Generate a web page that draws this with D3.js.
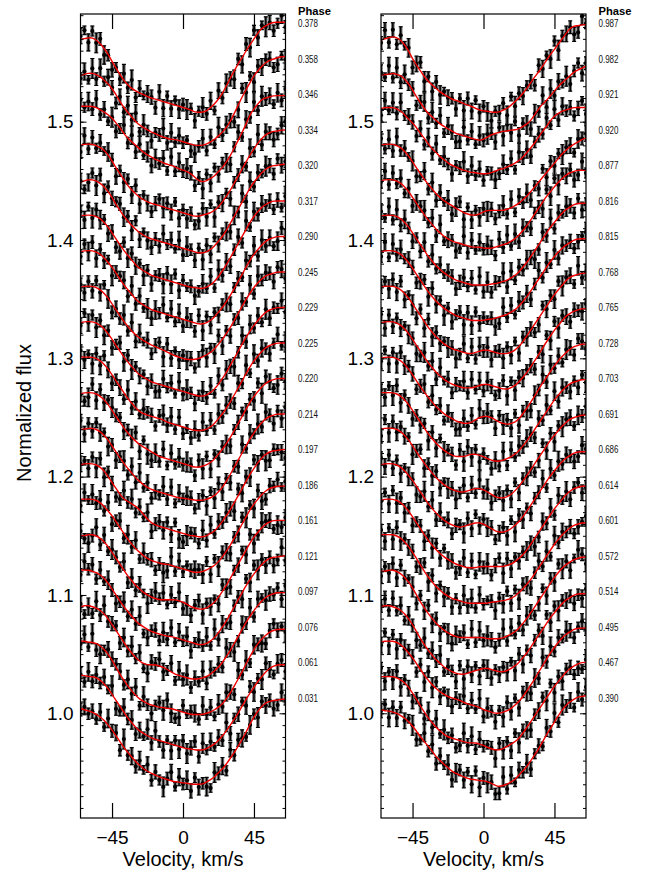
<!DOCTYPE html>
<html><head><meta charset="utf-8">
<script src="https://cdn.jsdelivr.net/npm/d3@7"></script>
<style>body{margin:0;background:#fff}svg{display:block}text{font-family:"Liberation Sans",Arial,Helvetica,sans-serif}</style>
</head><body><svg id="c" width="648" height="876"></svg>
<script>
// ---------- data ----------
// velocity grid (km/s) of the measured points and of the model fit
const velocities = [-65,-62.5,-60,-57.5,-55,-52.5,-50,-47.5,-45,-42.5,-40,-37.5,-35,-32.5,-30,-27.5,-25,-22.5,-20,-17.5,-15,-12.5,-10,-7.5,-5,-2.5,0,2.5,5,7.5,10,12.5,15,17.5,20,22.5,25,27.5,30,32.5,35,37.5,40,42.5,45,47.5,50,52.5,55,57.5,60,62.5,65];
// phases, bottom to top
const phasesLeft = ["0.031","0.061","0.076","0.097","0.121","0.161","0.186","0.197","0.214","0.220","0.225","0.229","0.245","0.290","0.317","0.320","0.334","0.346","0.358","0.378"];
const phasesRight = ["0.390","0.467","0.495","0.514","0.572","0.601","0.614","0.686","0.691","0.703","0.728","0.765","0.768","0.815","0.816","0.877","0.920","0.921","0.982","0.987"];
const xTicks = [-45, 0, 45];
const yTicks = [1.0, 1.1, 1.2, 1.3, 1.4, 1.5];
const offsetStep = 0.03;
// model (red) line depth below each profile's offset level, in units of 0.001
const depthLeft = [
[-4,-3,-2,-1,1,3,6,10,14,19,24,29,33,37,41,44,47,49,51,52,54,55,56,57,58,58,59,59,60,60,60,60,58,56,54,50,47,43,38,33,28,22,16,9,3,-2,-6,-9,-10,-11,-11,-12,-12],
[-2,-2,-1,-1,0,2,5,9,14,19,24,29,34,38,42,45,47,49,51,52,53,54,55,56,57,58,59,60,60,61,61,61,60,58,56,53,49,45,40,35,30,24,18,13,8,3,-1,-5,-8,-10,-11,-11,-11],
[-1,-1,0,0,1,3,6,10,15,21,27,32,37,41,45,48,50,52,53,54,55,55,56,56,57,58,59,60,61,61,61,61,60,59,57,55,52,48,43,37,31,25,18,12,6,1,-3,-6,-9,-10,-11,-11,-11],
[0,-1,-1,0,1,3,6,10,15,20,25,30,35,39,43,46,48,49,49,49,50,51,53,55,57,58,59,60,61,61,61,60,59,57,54,51,47,42,37,31,25,19,13,8,3,-1,-5,-8,-10,-11,-12,-12,-12],
[-1,-1,-1,0,1,3,6,10,15,20,25,30,34,38,42,45,47,49,51,52,53,54,55,55,56,57,58,59,60,61,62,62,61,59,56,52,47,42,36,30,24,18,12,7,2,-2,-6,-9,-11,-12,-12,-13,-13],
[0,0,-1,-1,0,2,5,9,14,19,24,29,34,38,42,45,48,50,52,53,54,54,54,54,54,55,56,58,60,61,62,62,61,59,56,52,47,42,36,30,24,18,12,6,1,-3,-7,-10,-12,-13,-13,-13,-13],
[-1,-1,-1,-1,0,2,5,9,13,18,23,28,33,37,41,44,47,49,51,52,53,54,54,55,56,57,58,59,60,61,61,60,59,57,55,52,48,43,38,32,26,20,14,8,3,-1,-5,-8,-10,-11,-12,-12,-12],
[0,-1,-1,-1,0,2,5,10,15,20,25,29,31,33,35,38,42,46,49,51,52,53,54,55,56,57,58,59,60,60,61,61,60,58,56,52,48,43,38,32,26,20,14,8,3,-2,-6,-9,-11,-12,-12,-13,-13],
[0,0,-1,-1,0,2,5,9,14,19,24,29,33,37,41,44,47,49,51,52,53,54,55,56,57,58,58,59,59,60,60,60,59,58,56,53,49,44,38,32,26,20,14,8,3,-2,-6,-9,-11,-12,-13,-13,-13],
[0,-1,-1,-1,0,2,5,9,14,19,24,29,33,37,40,43,45,47,49,51,53,54,55,56,57,58,59,60,61,62,62,61,60,58,55,51,47,42,37,31,25,19,13,7,2,-2,-6,-9,-11,-12,-13,-13,-13],
[-1,-1,-1,-1,0,2,5,9,14,19,24,29,34,38,42,45,47,48,49,50,51,52,54,55,56,57,58,59,60,61,61,61,60,58,55,51,47,42,37,31,25,19,13,7,2,-2,-6,-9,-11,-12,-13,-13,-13],
[0,-1,-1,-1,0,2,5,9,14,19,24,29,33,37,41,44,46,48,50,51,52,53,54,55,56,57,58,59,60,61,62,62,61,59,56,52,47,42,36,30,24,18,12,7,2,-2,-6,-9,-11,-12,-13,-13,-13],
[0,-1,-1,-1,0,2,5,9,14,19,24,29,33,37,40,43,45,47,49,50,52,53,55,56,58,59,60,61,61,61,60,59,57,55,52,48,44,39,34,28,22,16,10,5,0,-4,-7,-10,-11,-12,-13,-13,-13],
[0,-1,-1,-1,0,2,5,9,13,18,23,28,32,36,40,43,45,47,49,50,51,52,53,54,55,56,57,58,59,60,61,61,60,58,55,51,47,42,37,31,25,19,13,7,2,-2,-6,-9,-11,-12,-13,-13,-13],
[0,-1,-1,-1,0,2,5,9,14,19,24,29,33,37,41,44,46,48,50,51,52,53,54,55,56,57,58,59,60,60,61,61,60,58,55,51,46,41,35,29,23,17,11,5,0,-4,-8,-10,-12,-13,-13,-13,-13],
[1,0,-1,-1,0,2,5,9,14,20,25,30,34,38,41,44,46,48,49,50,51,52,53,54,55,56,57,58,59,60,61,61,60,58,55,51,47,42,36,30,24,18,12,6,1,-3,-7,-10,-12,-13,-13,-14,-14],
[0,-1,-1,-1,0,2,4,8,13,19,24,29,34,38,41,44,46,48,49,50,51,52,53,54,55,56,57,58,59,60,60,59,58,57,55,52,48,43,38,32,26,20,14,8,3,-2,-6,-9,-11,-12,-12,-13,-13],
[-3,-3,-3,-3,-2,0,2,4,7,11,15,20,24,27,30,33,36,38,40,42,43,45,46,47,48,50,51,52,54,57,60,61,60,58,56,52,49,44,39,32,26,19,12,4,-1,-5,-9,-10,-11,-12,-12,-12,-12],
[1,0,-1,-1,0,2,5,8,12,17,23,28,32,36,40,43,45,47,49,50,52,53,54,55,55,56,57,58,59,60,60,60,59,57,55,52,49,45,40,33,26,19,13,7,1,-3,-7,-10,-12,-13,-14,-15,-15],
[0,0,-1,-1,1,4,8,13,19,25,30,35,39,42,44,46,47,49,50,51,52,53,54,55,56,57,58,59,60,62,62,62,61,58,55,51,46,40,33,27,21,16,10,5,0,-5,-9,-11,-13,-14,-14,-14,-14]];
const depthRight = [
[-3,-2,-2,-1,0,2,4,7,11,15,20,24,28,32,37,40,43,46,49,51,52,54,55,56,56,57,57,58,59,61,62,61,60,58,56,52,49,45,40,35,30,24,18,13,7,2,-3,-7,-10,-12,-14,-14,-15],
[-1,-1,-1,-1,0,2,4,8,13,18,24,29,34,38,42,45,48,50,51,52,53,54,55,55,55,56,57,59,60,61,61,60,58,56,54,51,47,42,37,32,27,22,17,12,7,3,-1,-5,-8,-10,-12,-13,-13],
[0,-1,-1,-1,0,2,5,9,13,18,23,28,32,36,39,42,44,46,47,48,49,51,52,53,54,55,57,58,59,60,60,59,58,56,53,50,46,41,36,31,25,20,14,9,4,0,-4,-7,-9,-11,-12,-12,-12],
[0,-1,-1,0,1,3,6,10,15,21,27,32,37,41,45,48,51,53,55,56,57,57,56,55,54,53,52,52,53,54,55,55,54,52,50,47,43,39,34,29,24,19,14,9,5,1,-3,-6,-8,-10,-11,-11,-11],
[0,0,-1,-1,0,2,5,9,14,20,26,31,36,40,44,47,50,52,54,55,56,56,56,56,56,56,56,57,57,57,57,56,55,53,51,48,44,40,35,30,25,20,15,10,5,1,-3,-6,-8,-10,-11,-12,-12],
[-1,-1,-1,-1,0,2,5,9,14,19,25,30,35,39,43,46,49,51,53,54,55,56,57,57,57,57,57,57,56,56,55,55,54,53,51,48,45,41,37,32,27,22,17,12,7,3,-1,-4,-7,-9,-10,-11,-11],
[0,-1,-1,-1,0,2,5,9,14,19,24,29,34,38,42,45,48,50,52,54,55,56,57,57,57,56,56,56,56,56,56,56,55,54,52,49,46,42,37,32,27,22,17,12,7,3,-1,-5,-8,-10,-11,-12,-12],
[0,-1,-1,-1,0,2,5,9,13,18,23,28,33,37,41,44,47,49,51,52,53,52,51,50,49,49,50,52,54,56,57,57,56,54,51,48,44,39,34,29,24,19,14,9,5,1,-3,-6,-8,-10,-11,-11,-11],
[0,-1,-1,-1,0,2,5,9,14,19,24,29,33,37,41,44,47,49,51,52,53,53,52,51,50,50,51,53,55,57,58,58,57,55,52,48,44,39,34,29,24,19,14,9,5,1,-3,-6,-9,-10,-11,-12,-12],
[-1,-1,-1,-1,0,2,5,9,14,19,24,29,34,38,42,45,48,50,52,53,53,53,52,51,51,52,53,55,56,57,57,56,55,53,51,48,44,40,35,30,25,20,15,10,5,1,-3,-6,-9,-10,-11,-12,-12],
[0,-1,-1,-1,0,2,5,9,14,19,24,29,33,37,41,44,47,49,51,53,54,55,55,54,52,50,49,49,50,52,54,55,56,55,54,51,47,42,37,32,26,21,16,11,6,2,-2,-5,-8,-10,-11,-12,-12],
[0,-1,-1,-1,0,2,5,9,14,19,24,29,34,38,42,45,48,50,52,53,54,55,55,55,54,53,52,52,53,54,55,56,56,55,53,50,46,42,37,32,27,21,16,11,6,2,-2,-6,-8,-10,-11,-12,-12],
[0,-1,-1,-1,0,2,5,9,14,19,24,29,34,38,42,45,48,50,52,53,54,55,56,56,55,54,53,53,54,55,56,56,56,55,53,50,46,41,36,31,26,21,16,11,6,2,-2,-6,-9,-10,-11,-12,-12],
[0,-1,-1,-1,0,2,5,9,14,19,24,29,34,38,42,45,48,50,52,54,55,56,57,58,58,58,58,57,57,56,55,54,53,51,49,46,42,38,33,28,23,18,13,8,4,0,-3,-6,-8,-10,-11,-11,-11],
[0,-1,-1,-1,0,2,5,9,14,19,24,29,34,38,42,45,48,50,52,54,55,56,57,58,58,58,58,58,57,57,56,55,54,52,50,47,43,39,34,29,24,19,14,9,5,1,-3,-6,-8,-10,-11,-11,-11],
[0,-1,-1,-1,0,2,5,9,14,19,24,29,33,37,41,44,47,49,51,52,53,54,55,56,56,56,57,57,57,56,55,54,53,51,49,46,42,38,33,28,23,18,13,9,5,1,-2,-5,-7,-8,-9,-9,-9],
[0,-1,-1,-1,0,2,5,9,14,19,24,29,33,37,41,44,47,49,51,53,55,57,58,59,59,58,56,55,55,55,55,55,54,53,51,49,46,43,39,35,31,27,23,19,15,11,7,4,1,-1,-3,-5,-6],
[-1,-2,-2,-2,-1,1,4,8,11,15,20,24,29,33,36,40,42,45,47,48,50,51,52,53,53,54,54,54,53,52,50,50,48,47,45,43,40,36,32,28,23,18,14,9,5,3,1,0,-1,-2,-2,-2,-2],
[1,0,0,-1,0,1,4,8,13,19,24,29,33,36,39,42,44,46,48,50,51,52,53,54,55,56,55,53,51,50,49,48,48,47,47,46,44,42,39,34,29,25,22,18,14,10,7,4,1,-2,-4,-5,-7],
[1,0,-1,-2,-1,1,5,10,17,22,27,32,36,39,42,45,47,49,51,52,53,55,56,57,59,60,61,61,62,62,62,60,59,56,53,50,46,42,37,32,28,23,18,13,9,4,0,-5,-9,-11,-11,-12,-12]];
// scatter of each measured point about the fit, read as digits 0..9 (4.5 = on the line)
const residLeft = [
"46352718460935274816305927461835207461938524617350284",
"51726384902746153829406173825918473629054718263940571",
"38291047566283917405739201846529471638509361742058463",
"60418293571738492065824917360538174629502749186354718",
"29581736404728391056163928470574829163056183947250392",
"73049182653916274058582739140692746183054829137650216",
"18473629058273916450401928375663918274053847291065847",
"56283917402947163805738291046518293746508273946105530",
"92738461505618293704382917465047183926051937462850628",
"40291837657364918205291837465083917264055736291840173",
"83617294054192837650673829140529481736507391826405935",
"39482716059283746150184729365057382916404928371605482",
"61728394053829174605819273645048372916052739184650761",
"28491736056719283405493827165091827364056384917250294",
"72938461501938472605628391745037491826058192736450517",
"50382917468472916305294738165071829364053918274650846",
"19283746506382917405847391625028391746055728391640379",
"84739261504928173605371928465061829374059273816450628",
"36172948507283916405592837461048172936502938174650153",
"69283714052839174650918273645057381926407183926450482"];
const residRight = [
"48172936503928174605738291645019283746056283917450739",
"92738164055182937460293817465084719263054839172650216",
"39281746507193826405482739165062938174051938274650584",
"58293716401837492650928371640537482916057192836450427",
"27381946508392716405571928364049283716503817294605961",
"71829364504928173605183729465063928174058271936450358",
"48293716056173829450392817460591827364502738194605714",
"83927164502839174605618293745047291836055918273640286",
"19283746059273816450481729360573829164503928174650549",
"62839174053718294650829371640529183746507382916405173",
"38172946505928371640173829465084729163054928371650862",
"91827364502738194605582937164039182746506182937405437",
"57382916408192736450392817460562839174501837294650925",
"29183746504829371605718293645019382746059273816450368",
"73928164051928374650473829160559182736402839174650714",
"49283716056738192450291837465083927164055182937460293",
"82719364503928174605918273645047291836051928374650657",
"18372946507182936405592837164027381946056392817450481",
"63928174505827391640193827465072839164053918274605826",
"39281746059271836450618293740548192736508372916450195"];
// error bar half-lengths, digits 0..9
const errStrings = [
"46352718463927481635294617385263819472534718293645372",
"52847361942738461958361728495349271638525173829461846",
"37194826536284719352495826314738261947536291847352519",
"61729483524839261754572618493529471638583748261953264"];

// ---------- drawing ----------
const svg = d3.select('#c');
const FONT = '"Liberation Sans",Arial,Helvetica,sans-serif';
const yTop = 14, yBot = 818;
const y = d3.scaleLinear().domain([0.9115, 1.591]).range([yBot, yTop]);
const panels = [
  {x0: 80.5, x1: 285.5, phases: phasesLeft, depth: depthLeft, resid: residLeft, labelX: 298},
  {x0: 381, x1: 586, phases: phasesRight, depth: depthRight, resid: residRight, labelX: 598.5}
];
const minorTicks = d3.range(92, 160).map(k => k / 100);

panels.forEach((p, pi) => {
  const x = d3.scaleLinear().domain([-65, 65]).range([p.x0, p.x1]);
  const cid = 'clip' + pi;
  svg.append('clipPath').attr('id', cid).append('rect')
    .attr('x', p.x0).attr('y', yTop).attr('width', p.x1 - p.x0).attr('height', yBot - yTop);
  const g = svg.append('g').attr('clip-path', `url(#${cid})`);

  p.phases.forEach((ph, i) => {
    const base = 1 + i * offsetStep;
    const es = errStrings[(i + pi) % errStrings.length];
    const rs = p.resid[i];
    const model = p.depth[i].map((d, j) => ({v: velocities[j], f: base - d / 1000}));
    const obs = model.map((m, j) => {
      const rc = rs[j] !== undefined ? +rs[j] : 4.5;
      const ec = es[j] !== undefined ? +es[j] : 4;
      return {v: m.v, f: m.f + (rc - 4.5) * 1.6 / 1000, e: (3 + ec * 0.6) / 1000};
    });
    const gs = g.append('g');
    gs.selectAll('line.halo').data(obs).join('line').attr('class', 'halo')
      .attr('x1', d => x(d.v)).attr('x2', d => x(d.v))
      .attr('y1', d => y(d.f - d.e) + 0.5).attr('y2', d => y(d.f + d.e) - 0.5)
      .attr('stroke', '#7a7a7a').attr('stroke-width', 3.6);
    gs.selectAll('line.eb').data(obs).join('line').attr('class', 'eb')
      .attr('x1', d => x(d.v)).attr('x2', d => x(d.v))
      .attr('y1', d => y(d.f - d.e)).attr('y2', d => y(d.f + d.e))
      .attr('stroke', '#000').attr('stroke-width', 1.5);
    ['cap1', 'cap2'].forEach((c, ci) => {
      gs.selectAll('line.' + c).data(obs).join('line').attr('class', c)
        .attr('x1', d => x(d.v) - 2).attr('x2', d => x(d.v) + 2)
        .attr('y1', d => y(d.f + (ci ? -d.e : d.e))).attr('y2', d => y(d.f + (ci ? -d.e : d.e)))
        .attr('stroke', '#000').attr('stroke-width', 1.1);
    });
    gs.selectAll('circle').data(obs).join('circle')
      .attr('cx', d => x(d.v)).attr('cy', d => y(d.f)).attr('r', 2.1).attr('fill', '#000');
    g.append('path').datum(model)
      .attr('d', d3.line().x(d => x(d.v)).y(d => y(d.f)).curve(d3.curveBasis))
      .attr('fill', 'none').attr('stroke', '#f00000').attr('stroke-width', 1.4);

    svg.append('text').attr('x', p.labelX).attr('y', y(base) - 11.5)
      .attr('font-size', 11).attr('textLength', 20).attr('lengthAdjust', 'spacingAndGlyphs')
      .attr('fill', '#111').text(ph);
  });

  svg.append('text').attr('x', p.labelX).attr('y', 15).attr('font-size', 11)
    .attr('font-weight', 'bold').attr('textLength', 33).attr('lengthAdjust', 'spacingAndGlyphs')
    .text('Phase');

  // axes
  const ax = (sel) => { sel.select('.domain').remove(); sel.selectAll('text').attr('font-family', FONT); };
  svg.append('g').attr('transform', `translate(0,${yBot})`)
    .call(d3.axisBottom(x).tickValues(xTicks).tickSize(-15).tickPadding(13).tickFormat(d3.format('d')))
    .call(ax).call(s => s.selectAll('text').attr('font-size', 19).attr('fill', '#000'))
    .call(s => s.selectAll('line').attr('stroke-width', 1.2));
  svg.append('g').attr('transform', `translate(0,${yTop})`)
    .call(d3.axisTop(x).tickValues(xTicks).tickSize(-15).tickFormat(''))
    .call(ax).call(s => s.selectAll('line').attr('stroke-width', 1.2));
  svg.append('g').attr('transform', `translate(${p.x0},0)`)
    .call(d3.axisLeft(y).tickValues(minorTicks).tickSize(-3).tickFormat(''))
    .call(ax);
  svg.append('g').attr('transform', `translate(${p.x1},0)`)
    .call(d3.axisRight(y).tickValues(minorTicks).tickSize(-3).tickFormat(''))
    .call(ax);
  svg.append('g').attr('transform', `translate(${p.x0},0)`)
    .call(d3.axisLeft(y).tickValues(yTicks).tickSize(-6).tickPadding(7).tickFormat(d3.format('.1f')))
    .call(ax).call(s => s.selectAll('text').attr('font-size', 19).attr('fill', '#000'));
  svg.append('g').attr('transform', `translate(${p.x1},0)`)
    .call(d3.axisRight(y).tickValues(yTicks).tickSize(-6).tickFormat(''))
    .call(ax);

  svg.append('rect').attr('x', p.x0).attr('y', yTop).attr('width', p.x1 - p.x0).attr('height', yBot - yTop)
    .attr('fill', 'none').attr('stroke', '#000').attr('stroke-width', 1.2);

  svg.append('text').attr('x', (p.x0 + p.x1) / 2).attr('y', 866).attr('text-anchor', 'middle')
    .attr('font-size', 20).text('Velocity, km/s');
});

svg.append('text').attr('transform', 'translate(31,413) rotate(-90)').attr('text-anchor', 'middle')
  .attr('font-size', 20).text('Normalized flux');
</script>
</body></html>
